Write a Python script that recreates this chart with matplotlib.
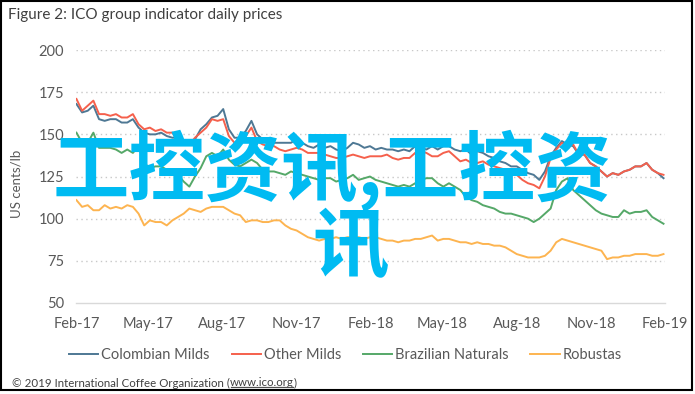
import matplotlib
matplotlib.use("Agg")
import matplotlib.pyplot as plt
from matplotlib.patches import Rectangle
import pandas as pd

# weekly readings, Feb 2017 - Jan 2019 (US cents/lb)
START_DATE = "2017-02-01"

colombian_milds = [168, 163, 164, 167, 159, 158, 159, 159, 157, 157, 159, 154, 151, 150, 150, 151, 149, 148, 148, 145,
                   144, 147, 153, 156, 160, 161, 165, 153, 148, 148, 152, 158, 150, 147, 146, 145, 145, 145, 145, 147,
                   145, 143, 142, 144, 142, 143, 141, 140, 142, 145, 144, 142, 143, 141, 142, 141, 141, 140, 141, 140,
                   143, 142, 141, 143, 141, 143, 143, 141, 140, 141, 138, 140, 139, 137, 136, 134, 133, 131, 131, 129,
                   127, 126, 123, 128, 137, 142, 146, 144, 143, 138, 138, 133, 131, 128, 125, 127, 126, 128, 129, 131,
                   131, 133, 129, 127, 124]

other_milds = [171, 164, 167, 170, 162, 162, 161, 162, 160, 160, 162, 156, 153, 154, 152, 153, 151, 151, 146, 145,
               144, 148, 151, 154, 159, 158, 159, 149, 145, 145, 149, 154, 146, 144, 143, 143, 141, 140, 141, 142,
               141, 139, 139, 139, 138, 137, 136, 136, 137, 138, 137, 136, 137, 137, 137, 138, 136, 135, 136, 136,
               139, 140, 139, 137, 137, 139, 140, 137, 134, 135, 133, 133, 134, 132, 131, 130, 129, 127, 126, 123,
               121, 120, 118, 125, 136, 141, 145, 143, 144, 138, 138, 133, 131, 128, 125, 127, 126, 128, 129, 131,
               131, 133, 129, 127, 126]

brazilian_naturals = [151, 145, 145, 151, 142, 142, 142, 141, 139, 141, 139, 143, 133, 130, 131, 131, 129, 128, 126, 122,
                      119, 125, 130, 137, 139, 137, 141, 135, 132, 131, 133, 135, 133, 129, 128, 128, 127, 126, 128, 127,
                      126, 125, 124, 123, 124, 124, 122, 123, 124, 126, 123, 124, 125, 123, 122, 121, 120, 119, 120, 119,
                      121, 123, 124, 124, 121, 119, 121, 119, 117, 113, 111, 110, 108, 107, 106, 104, 103, 103, 102, 101,
                      100, 98, 100, 103, 106, 117, 122, 124, 117, 114, 111, 108, 105, 103, 102, 101, 101, 105, 103, 104,
                      104, 105, 101, 99, 97]

robustas = [111, 107, 108, 105, 105, 108, 106, 107, 106, 108, 107, 103, 96, 99, 98, 98, 96, 99, 101, 103,
            106, 105, 104, 106, 107, 107, 107, 105, 103, 102, 98, 99, 99, 98, 98, 99, 99, 96, 94, 93,
            91, 89, 88, 87, 88, 88, 89, 88, 89, 89, 89, 88, 89, 89, 88, 87, 87, 86, 87, 87,
            88, 88, 89, 90, 87, 88, 88, 87, 86, 86, 85, 86, 85, 85, 84, 84, 83, 81, 79, 78,
            77, 77, 77, 78, 81, 86, 88, 87, 86, 85, 84, 83, 82, 81, 76, 77, 77, 78, 78, 79,
            79, 79, 78, 78, 79]

series_names = ["Colombian Milds", "Other Milds", "Brazilian Naturals", "Robustas"]
series_colors = ["#4E7894", "#F5604C", "#55A868", "#FDB450"]
y_ticks = [50, 75, 100, 125, 150, 175, 200]
x_tick_labels = ["Feb-17", "May-17", "Aug-17", "Nov-17", "Feb-18", "May-18", "Aug-18", "Nov-18", "Feb-19"]

FONT = "Lato"
GREY = "#595959"

dates = pd.date_range(START_DATE, periods=len(colombian_milds), freq="7D")
tick_dates = pd.date_range(START_DATE, periods=len(x_tick_labels), freq="3MS")

fig = plt.figure(figsize=(6.95, 3.94), dpi=100)
ax = fig.add_axes([0.110, 0.231, 0.847, 0.642])

all_series = [colombian_milds, other_milds, brazilian_naturals, robustas]
for vals, name, col in zip(all_series, series_names, series_colors):
    ax.plot(dates, vals, color=col, lw=1.4, label=name, solid_joinstyle="round")

ax.set_xlim(tick_dates[0], tick_dates[-1])
ax.set_ylim(50, 200)
ax.set_yticks(y_ticks)
ax.set_xticks(tick_dates)
ax.set_xticklabels(x_tick_labels)

for y in y_ticks[1:]:
    ax.axhline(y, color="#c8c8c8", lw=1.0, ls=(0, (1, 2.5)), zorder=0)

for s in ["top", "right", "left"]:
    ax.spines[s].set_visible(False)
ax.spines["bottom"].set_color("#d9d9d9")
ax.spines["bottom"].set_linewidth(1.0)
ax.tick_params(length=0, colors=GREY, labelsize=10.5)
ax.tick_params(axis="y", pad=9)
ax.tick_params(axis="x", pad=10)
for lbl in ax.get_xticklabels() + ax.get_yticklabels():
    lbl.set_fontfamily(FONT)

ax.set_ylabel("US cents/lb", fontsize=9.5, color=GREY, family=FONT)
ax.yaxis.set_label_coords(-0.092, 0.47)

fig.text(0.012, 1 - 15 / 394, "Figure 2: ICO group indicator daily prices", fontsize=11,
         color="#404040", family=FONT, va="center", ha="left")

leg = fig.legend(loc="center", bbox_to_anchor=(0.497, 1 - 355 / 394), ncol=4, frameon=False,
                 handlelength=2.0, handletextpad=0.2, columnspacing=1.5,
                 prop={"family": FONT, "size": 10.5})
for t in leg.get_texts():
    t.set_color(GREY)

# footer with underlined link
FOOT_SIZE = 8.3
foot_y = 1 - 383 / 394
t1 = fig.text(12 / 695, foot_y, "\u00a9 2019 International Coffee Organization (", fontsize=FOOT_SIZE,
              color="#404040", family=FONT, va="center")
fig.canvas.draw()
r = fig.canvas.get_renderer()
bb = t1.get_window_extent(r)
x2 = bb.x1 / fig.bbox.width
t2 = fig.text(x2, foot_y, "www.ico.org", fontsize=FOOT_SIZE, color="#404040", family=FONT, va="center")
bb2 = t2.get_window_extent(r)
x3 = bb2.x1 / fig.bbox.width
fig.text(x3, foot_y, ")", fontsize=FOOT_SIZE, color="#404040", family=FONT, va="center")
under_y = (round(bb2.y0) + 1.5) / fig.bbox.height
fig.add_artist(plt.Line2D([x2 + 0.001, x3 - 0.001], [under_y, under_y],
                          color="#505050", lw=0.9, transform=fig.transFigure, zorder=20))

# watermark overlay
wm_col = "#00BBF2"
fig.text(332 / 695, 1 - 170 / 394, "工控资讯,工控资", fontsize=55, color=wm_col,
         family=["Noto Sans CJK SC", "DejaVu Sans"], weight="bold", ha="center", va="center", zorder=10)
fig.text(351 / 695, 1 - 248 / 394, "讯", fontsize=55, color=wm_col,
         family=["Noto Sans CJK SC", "DejaVu Sans"], weight="bold", ha="center", va="center", zorder=10)

# outer frame
fig.add_artist(Rectangle((0.001, 0.011), 0.995, 0.987, transform=fig.transFigure,
                         fill=False, edgecolor="black", lw=1.5))

fig.savefig("out.png", dpi=100)
